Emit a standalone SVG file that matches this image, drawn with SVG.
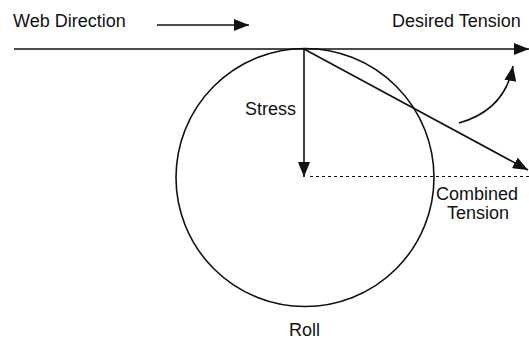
<svg xmlns="http://www.w3.org/2000/svg" width="529" height="340" viewBox="0 0 529 340">
<style>
text{font-family:"Liberation Sans",Arial,sans-serif;font-size:18px;fill:#111}
.ln{stroke:#111;stroke-width:1.6;fill:none}
</style>
<defs>
<marker id="ah" markerUnits="userSpaceOnUse" markerWidth="16" markerHeight="12" refX="15" refY="6" orient="auto">
<path d="M0,0 L15,6 L0,12 Z" fill="#111"/>
</marker>
</defs>
<rect width="529" height="340" fill="#fff"/>
<g id="roll">
<circle cx="305" cy="177.5" r="129" class="ln"/>
<text x="304.5" y="336" text-anchor="middle">Roll</text>
</g>
<g id="web-direction">
<text x="13" y="27">Web Direction</text>
</g>
<g id="desired-tension">
<text x="392" y="27">Desired Tension</text>
</g>
<g id="stress">
<text x="245" y="115">Stress</text>
</g>
<g id="combined-tension">
<text x="436" y="200">Combined</text>
<text x="447" y="219">Tension</text>
</g>
<g id="connectors">
<line x1="157" y1="25" x2="249" y2="25" class="ln" marker-end="url(#ah)"/>
<line x1="14" y1="49" x2="529" y2="49" class="ln" stroke-width="2" marker-end="url(#ah)"/>
<line x1="304" y1="49" x2="304" y2="177" class="ln" marker-end="url(#ah)"/>
<line x1="304" y1="49" x2="528" y2="170" class="ln" marker-end="url(#ah)"/>
<line x1="310" y1="176.5" x2="529" y2="176.5" stroke="#111" stroke-width="1.2" stroke-dasharray="3,3"/>
<path d="M459,123 Q505,110 513,66" class="ln" marker-end="url(#ah)"/>
</g>
</svg>
